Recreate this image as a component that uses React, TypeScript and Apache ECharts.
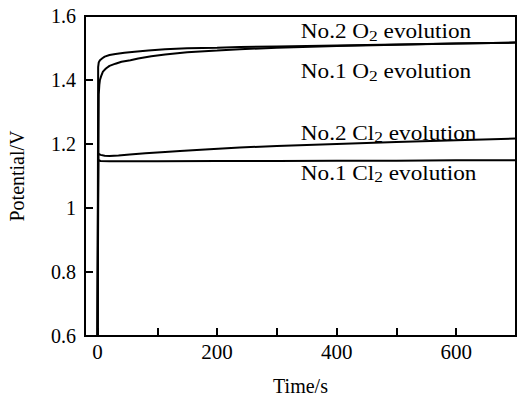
import React, { useEffect, useRef } from 'react';
import * as echarts from 'echarts';

// ---- data (time in s, potential in V) ----
const no2O2Time = [0, 1, 2, 4, 8, 12, 20, 30, 45, 62, 85, 113, 150, 200, 238, 300, 400, 500, 600, 700];
const no2O2Pot = [0.6, 1.44, 1.455, 1.462, 1.468, 1.473, 1.478, 1.481, 1.485, 1.488, 1.492, 1.496, 1.499, 1.501, 1.503, 1.505, 1.508, 1.511, 1.514, 1.517];

const no1O2Time = [0, 2, 3, 4, 6, 9, 14, 20, 30, 40, 55, 68, 90, 113, 150, 200, 238, 300, 400, 500, 600, 700];
const no1O2Pot = [0.6, 1.355, 1.385, 1.4, 1.412, 1.426, 1.436, 1.444, 1.451, 1.457, 1.462, 1.467, 1.474, 1.48, 1.487, 1.492, 1.496, 1.501, 1.506, 1.51, 1.514, 1.517];

const no2Cl2Time = [0, 1, 5, 12, 20, 35, 54, 80, 113, 138, 180, 238, 300, 400, 500, 600, 700];
const no2Cl2Pot = [0.6, 1.17, 1.166, 1.163, 1.1625, 1.164, 1.167, 1.171, 1.175, 1.178, 1.183, 1.189, 1.194, 1.2, 1.206, 1.212, 1.217];

const no1Cl2Time = [0, 1, 5, 20, 100, 200, 300, 400, 500, 600, 700];
const no1Cl2Pot = [0.6, 1.15, 1.147, 1.146, 1.146, 1.147, 1.147, 1.148, 1.148, 1.149, 1.149];

const xTickValues = [0, 100, 200, 300, 400, 500, 600, 700];
const xLabelValues = [0, 200, 400, 600];

const seriesNames = ['No.2 O2 evolution', 'No.1 O2 evolution', 'No.2 Cl2 evolution', 'No.1 Cl2 evolution'];
const annotationTexts = [
  'No.2 O{s|2} evolution',
  'No.1 O{s|2} evolution',
  'No.2 Cl{s|2} evolution',
  'No.1 Cl{s|2} evolution',
];

const FONT = 'Liberation Serif';

function zip(t: number[], v: number[]) {
  return t.map((x, i) => [x, v[i]]);
}

export default function App() {
  const ref = useRef<HTMLDivElement>(null);
  useEffect(() => {
    document.body.style.margin = '0';
    if (!ref.current) return;
    const chart = echarts.init(ref.current, null, { renderer: 'svg' });
    const lineSeries = [
      zip(no2O2Time, no2O2Pot),
      zip(no1O2Time, no1O2Pot),
      zip(no2Cl2Time, no2Cl2Pot),
      zip(no1Cl2Time, no1Cl2Pot),
    ].map((d, i) => ({
      name: seriesNames[i],
      type: 'line' as const,
      data: d,
      showSymbol: false,
      symbol: 'none',
      smooth: false,
      lineStyle: { color: '#000', width: 2 },
      z: 3,
    }));

    chart.setOption({
      animation: false,
      backgroundColor: '#fff',
      textStyle: { fontFamily: FONT, color: '#000' },
      grid: {
        left: 85,
        right: 1,
        top: 16,
        bottom: 62,
        show: true,
        borderColor: '#000',
        borderWidth: 2,
        backgroundColor: 'transparent',
        containLabel: false,
        outerBoundsMode: 'none',
      },
      xAxis: {
        type: 'value',
        min: -21,
        max: 700,
        name: 'Time/s',
        nameLocation: 'middle',
        nameGap: 42,
        nameTextStyle: { fontFamily: FONT, fontSize: 20, color: '#000', lineHeight: 16 },
        axisLine: { show: true, onZero: false, lineStyle: { color: '#000', width: 2 } },
        axisTick: { show: true, inside: true, length: 8, lineStyle: { color: '#000', width: 2 }, customValues: xTickValues },
        axisLabel: { fontFamily: FONT, fontSize: 21, color: '#000', margin: 5, customValues: xLabelValues },
        splitLine: { show: false },
      },
      yAxis: {
        type: 'value',
        min: 0.6,
        max: 1.6,
        interval: 0.2,
        name: 'Potential/V',
        nameLocation: 'middle',
        nameGap: 58,
        nameTextStyle: { fontFamily: FONT, fontSize: 20, color: '#000' },
        axisLine: { show: true, onZero: false, lineStyle: { color: '#000', width: 2 } },
        axisTick: { show: true, inside: true, length: 8, lineStyle: { color: '#000', width: 2 } },
        axisLabel: { fontFamily: FONT, fontSize: 20, color: '#000', margin: 9 },
        splitLine: { show: false },
      },
      series: lineSeries,
    });

    // annotation anchors (data coordinates)
    const anchors = [
      [340, 1.55],
      [340, 1.425],
      [340, 1.234],
      [340, 1.109],
    ];
    const graphics = anchors.map((a, i) => {
      const p = chart.convertToPixel({ gridIndex: 0 }, a) as number[];
      return {
        type: 'text',
        x: p[0],
        y: p[1],
        scaleX: 1.16,
        z: 10,
        style: {
          text: annotationTexts[i],
          fill: '#000',
          fontFamily: FONT,
          fontSize: 20,
          verticalAlign: 'middle',
          align: 'left',
          rich: {
            s: { fontSize: 15, fontFamily: FONT, fill: '#000', verticalAlign: 'bottom', lineHeight: 12 },
          },
          lineHeight: 24,
        },
      };
    });
    chart.setOption({ graphic: graphics });

    return () => chart.dispose();
  }, []);
  return <div ref={ref} style={{ width: 517, height: 398 }} />;
}
